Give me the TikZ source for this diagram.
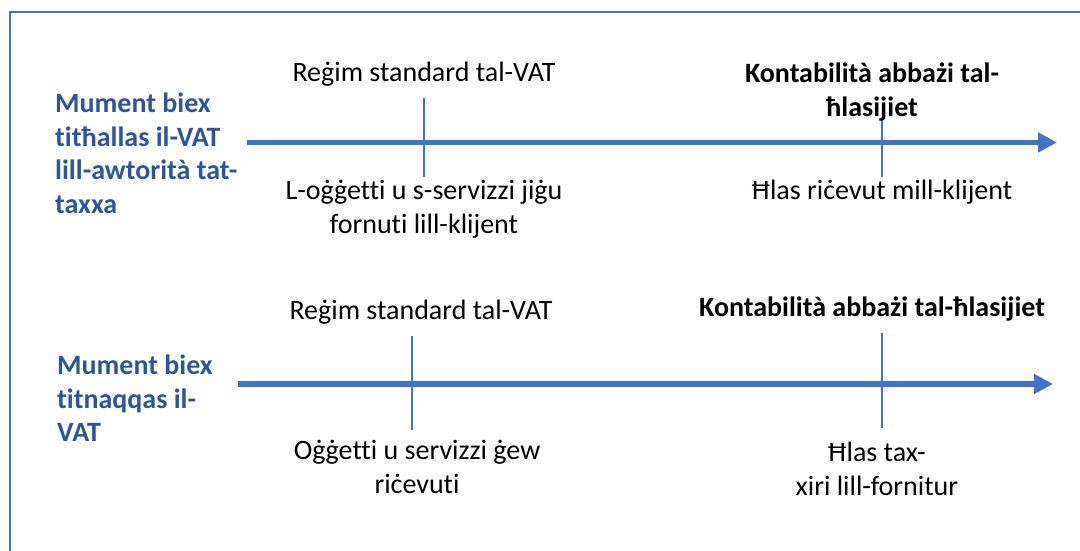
\documentclass[tikz,border=0pt]{standalone}
\usepackage{fontspec}
\setmainfont[Ligatures=NoCommon]{Carlito}
\usetikzlibrary{arrows.meta}
\definecolor{lineblue}{HTML}{4472C4}
\definecolor{textblue}{HTML}{2F5597}
\tikzset{
  lbl/.style={inner sep=0pt, align=center, font=\fontsize{28}{34}\selectfont},
  boldlbl/.style={lbl, font=\fontsize{28}{34}\selectfont\bfseries},
  sidelbl/.style={inner sep=0pt, align=left, anchor=north west, text=textblue, font=\fontsize{28}{33.5}\selectfont\bfseries},
  timeline/.style={draw=lineblue, line width=5.5pt, -{Triangle[length=19pt,width=19pt]}},
  tick/.style={draw=lineblue, line width=2.5pt},
  frame/.style={draw=lineblue, line width=2pt}
}
\begin{document}
\begin{tikzpicture}[x=1pt,y=1pt]
\useasboundingbox (0,0) rectangle (1080,-551);
% frame
\coordinate (fa) at (9.5,-551);
\coordinate (fb) at (9.5,-12.5);
\coordinate (fc) at (1080,-12.5);
\draw[frame] (fa) -- (fb) -- (fc);

% timeline 1
\coordinate (t1s) at (247,-142.5);
\coordinate (t1e) at (1057,-142.5);
\draw[timeline] (t1s) -- (t1e);
\coordinate (k1at) at (424,-98);
\coordinate (k1ab) at (424,-177);
\draw[tick] (k1at) -- (k1ab);
\coordinate (k1bt) at (882,-120);
\coordinate (k1bb) at (882,-177);
\draw[tick] (k1bt) -- (k1bb);

% timeline 2
\coordinate (t2s) at (238,-384);
\coordinate (t2e) at (1053,-384);
\draw[timeline] (t2s) -- (t2e);
\coordinate (k2at) at (412,-336);
\coordinate (k2ab) at (412,-430);
\draw[tick] (k2at) -- (k2ab);
\coordinate (k2bt) at (882,-333);
\coordinate (k2bb) at (882,-428);
\draw[tick] (k2bt) -- (k2bb);

% side labels
\node[sidelbl] (s1) at (55,-93) {Mument biex\\titħallas il-VAT\\lill-awtorità tat-\\taxxa};
\node[sidelbl] (s2) at (57,-355) {Mument biex\\titnaqqas il-\\VAT};

% row 1 labels
\node[lbl] (r1a) at (424,-74) {Reġim standard tal-VAT};
\node[lbl] (r1b) at (424,-209) {L-oġġetti u s-servizzi jiġu\\fornuti lill-klijent};
\node[boldlbl] (r1c) at (872,-92) {Kontabilità abbażi tal-\\ħlasijiet};
\node[lbl] (r1d) at (882,-192) {Ħlas riċevut mill-klijent};

% row 2 labels
\node[lbl] (r2a) at (421,-312) {Reġim standard tal-VAT};
\node[boldlbl] (r2c) at (872,-309) {Kontabilità abbażi tal-ħlasijiet};
\node[lbl] (r2b) at (417,-467) {Oġġetti u servizzi ġew\\riċevuti};
\node[lbl] (r2d) at (877,-469) {Ħlas tax-\\xiri lill-fornitur};
\end{tikzpicture}
\end{document}
